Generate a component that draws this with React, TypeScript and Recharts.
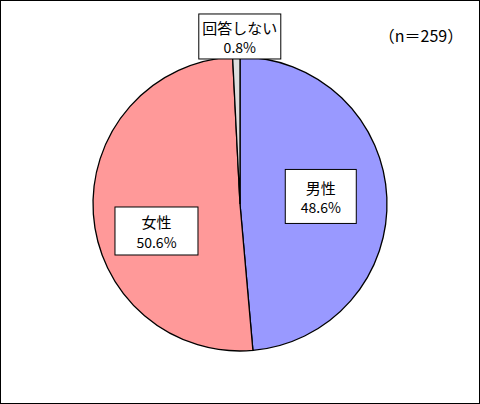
import { Cell, Pie, PieChart } from "recharts";

const categories = ["男性", "女性", "回答しない"];
const shares = [48.6, 50.6, 0.8];
const sliceColors = ["#9999ff", "#ff9999", "#dddddd"];
const sampleLabel = "（n＝259）";

const data = categories.map((name, i) => ({ name, value: shares[i] }));

// label box placement per slice: radius as a share of outerRadius, nudge, box size
const labelLayout = [
	{ r: 0.55, dx: 0, dy: -4, w: 71, h: 54 },
	{ r: 0.59, dx: 3, dy: 21, w: 83, h: 48 },
	{ r: 1.14, dx: 4, dy: 0, w: 82, h: 45 },
];

const RADIAN = Math.PI / 180;
const FONT = "'Noto Sans CJK JP', 'Noto Sans', sans-serif";

function BoxLabel(props: any) {
	const { cx, cy, midAngle, outerRadius, index, name, value } = props;
	const lay = labelLayout[index];
	const r = outerRadius * lay.r;
	const x = cx + r * Math.cos(-midAngle * RADIAN) + lay.dx;
	const y = cy + r * Math.sin(-midAngle * RADIAN) + lay.dy;
	return (
		<g>
			<rect
				x={x - lay.w / 2}
				y={y - lay.h / 2}
				width={lay.w}
				height={lay.h}
				fill='#ffffff'
				stroke='#000000'
				strokeWidth={1}
			/>
			<text
				x={x}
				y={y - 9}
				textAnchor='middle'
				dominantBaseline='central'
				fontSize={15}
				fontFamily={FONT}
				fill='#000000'
			>
				{name}
			</text>
			<text
				x={x}
				y={y + 11}
				textAnchor='middle'
				dominantBaseline='central'
				fontSize={14}
				fontFamily={FONT}
				fill='#000000'
			>
				{value.toFixed(1)}%
			</text>
		</g>
	);
}

export default function App() {
	return (
		<div
			style={{
				position: "absolute",
				left: 0,
				top: 0,
				width: 480,
				height: 404,
				boxSizing: "border-box",
				border: "1px solid #000000",
				background: "#ffffff",
			}}
		>
			<PieChart
				width={478}
				height={402}
				margin={{ top: 0, right: 0, bottom: 0, left: 0 }}
			>
				<Pie
					data={data}
					dataKey='value'
					nameKey='name'
					cx={239}
					cy={203}
					outerRadius={147}
					startAngle={90}
					endAngle={-270}
					stroke='#000000'
					strokeWidth={1.3}
					label={BoxLabel}
					labelLine={false}
					isAnimationActive={false}
				>
					{data.map((d, i) => (
						<Cell key={d.name} fill={sliceColors[i]} />
					))}
				</Pie>
				<text
					x={420}
					y={34}
					textAnchor='middle'
					dominantBaseline='central'
					fontSize={16}
					fontFamily={FONT}
					fill='#000000'
				>
					{sampleLabel}
				</text>
			</PieChart>
		</div>
	);
}
